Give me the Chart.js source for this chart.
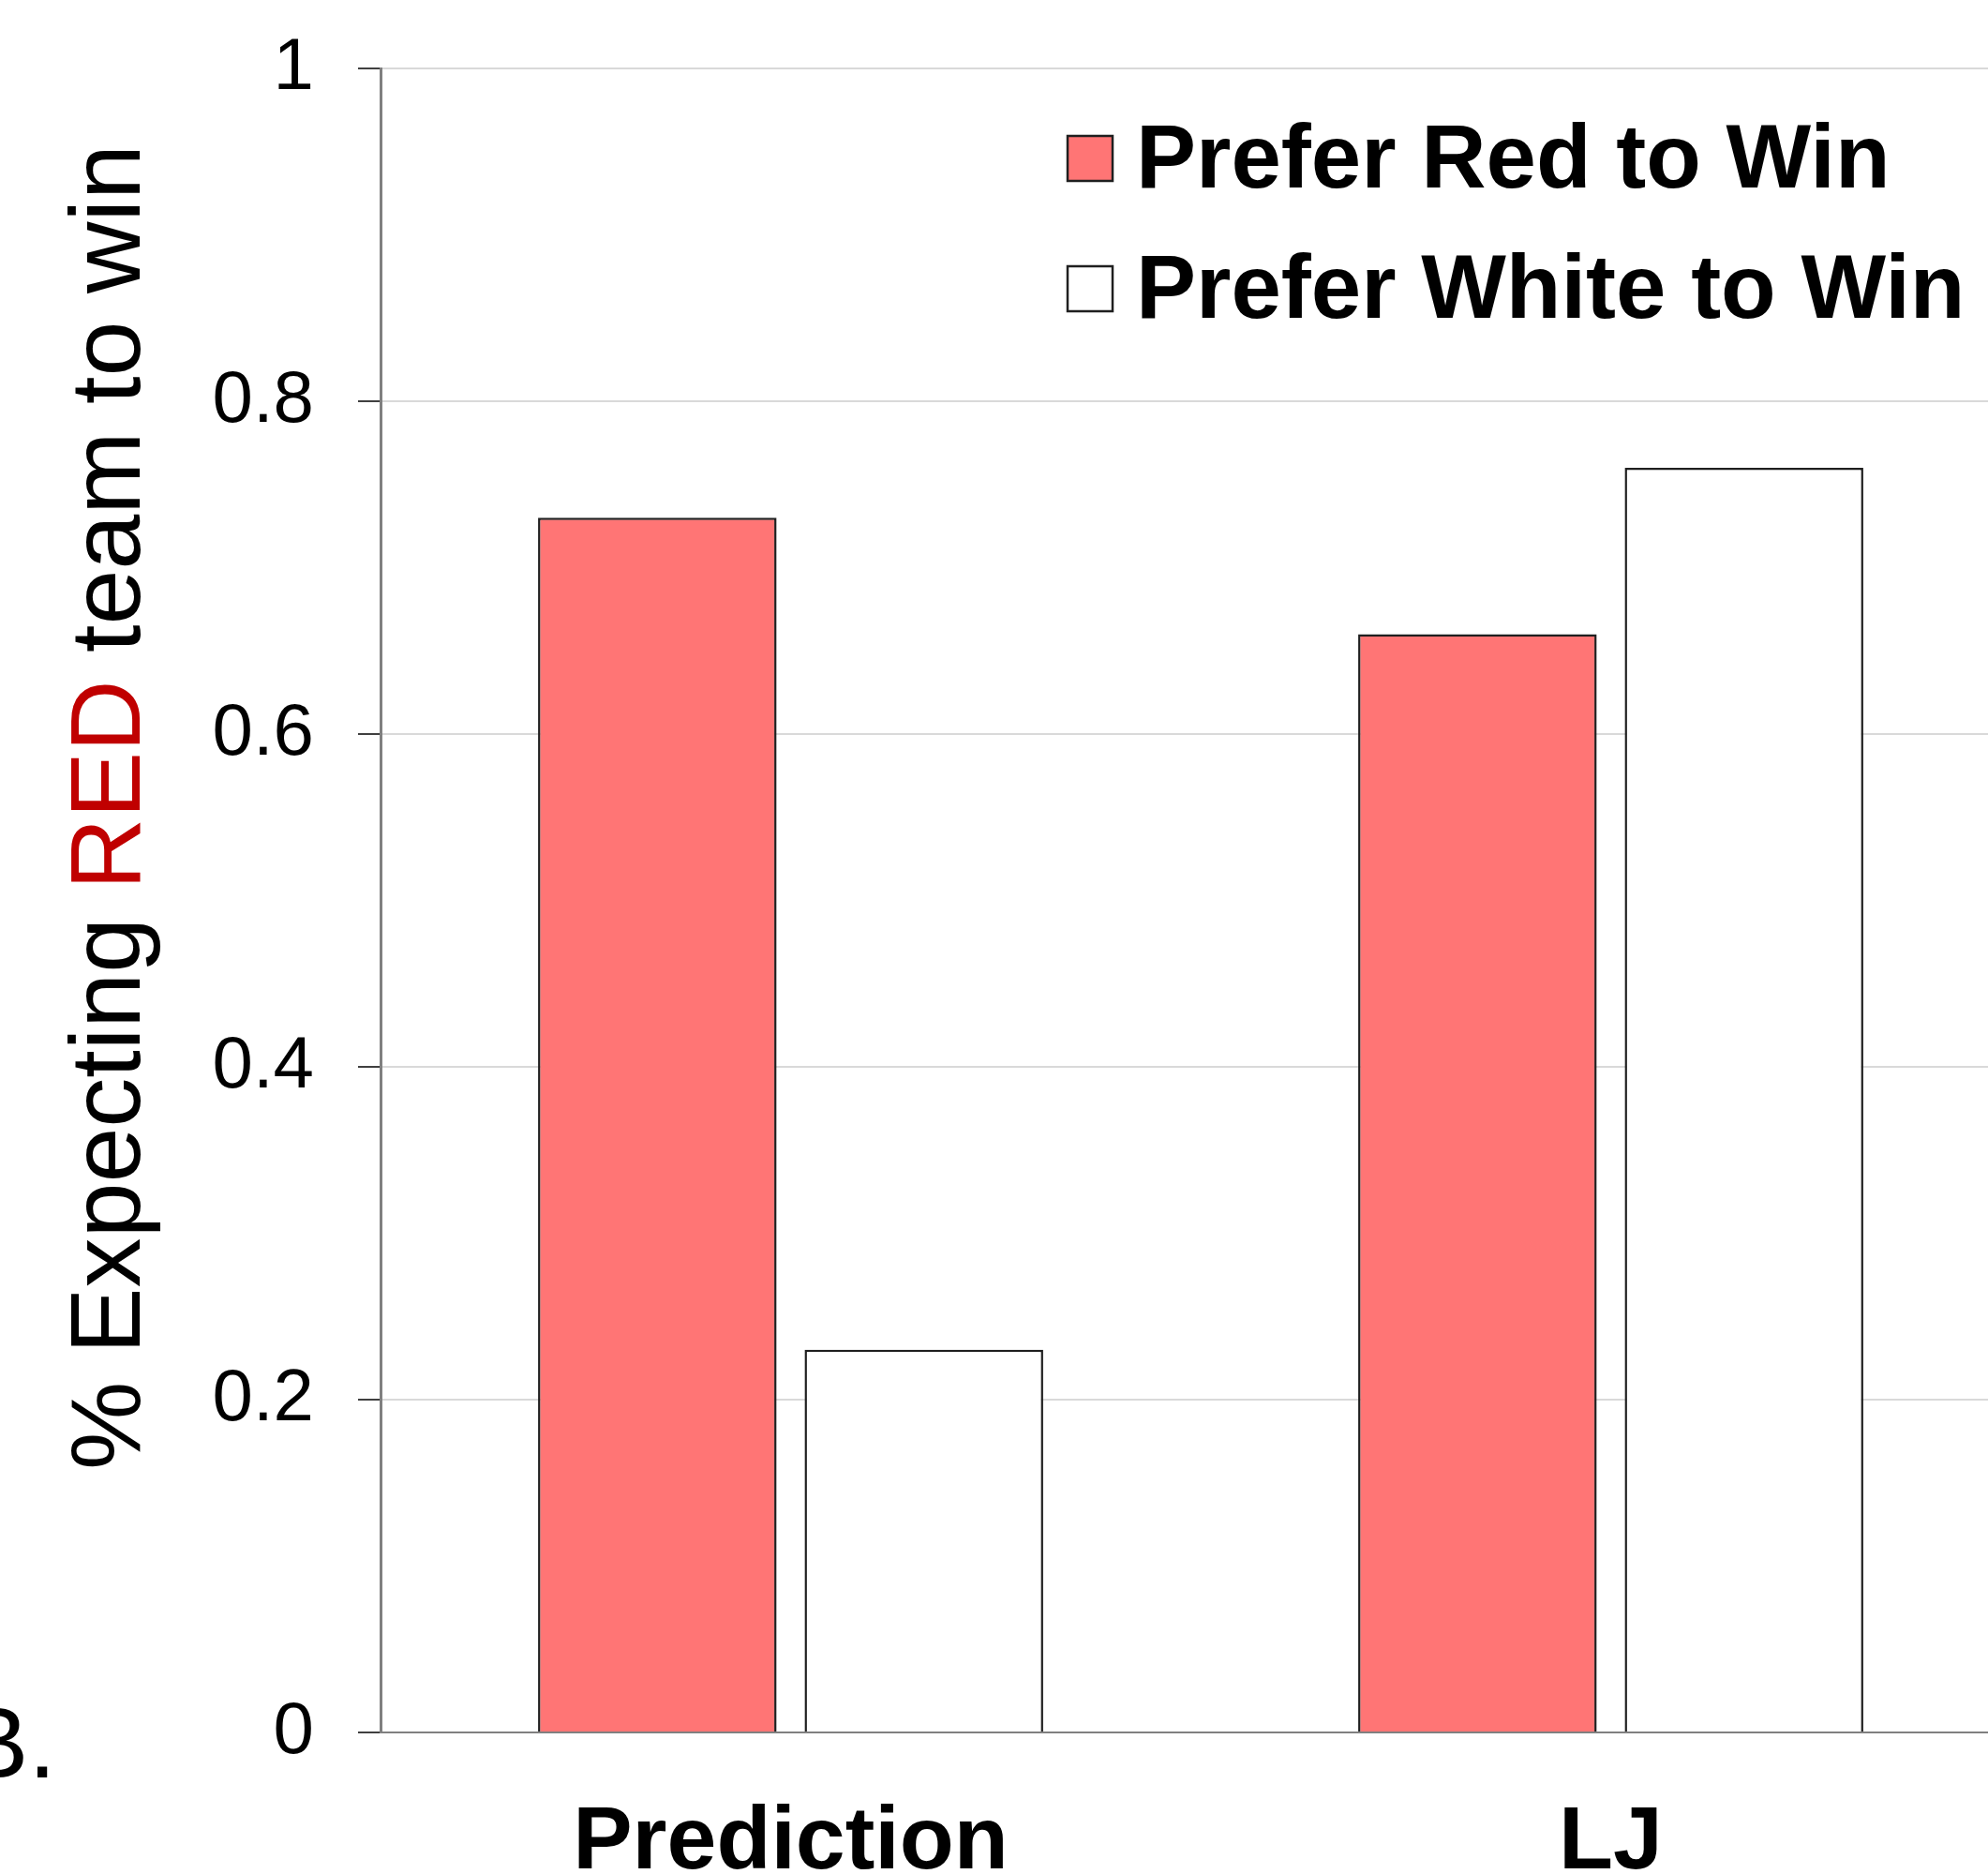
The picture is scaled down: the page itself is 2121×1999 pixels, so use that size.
<!DOCTYPE html>
<html>
<head>
<meta charset="utf-8">
<script src="https://cdn.jsdelivr.net/npm/chart.js@4/dist/chart.umd.min.js"></script>
<style>
  html, body { margin: 0; padding: 0; background: #ffffff; overflow: hidden; }
  #wrap { position: absolute; left: 0; top: 0; width: 2121px; height: 1999px; overflow: hidden; }
  canvas { position: absolute; left: 0; top: 0; }
</style>
</head>
<body>
<div id="wrap"><canvas id="chart" width="2156" height="1999"></canvas></div>
<script>
// Categories and series
const categories = ['Prediction', 'LJ'];
const seriesLabels = ['Prefer Red to Win', 'Prefer White to Win'];
const preferRed = [0.73, 0.66];
const preferWhite = [0.23, 0.76];
const yTicks = [0, 0.2, 0.4, 0.6, 0.8, 1];

const FONT = '"Liberation Sans", Arial, Helvetica, sans-serif';

// y-axis title with the word RED coloured
const titleParts = [
  { text: '% Expecting ', color: '#000000' },
  { text: 'RED', color: '#C00000' },
  { text: ' team to win', color: '#000000' }
];

const overlayPlugin = {
  id: 'overlay',
  afterDraw(chart) {
    const ctx = chart.ctx;

    // rotated axis title
    ctx.save();
    ctx.font = '106px ' + FONT;
    const total = titleParts.reduce((s, p) => s + ctx.measureText(p.text).width, 0);
    ctx.translate(149, 861);
    ctx.rotate(-Math.PI / 2);
    ctx.textBaseline = 'alphabetic';
    ctx.textAlign = 'left';
    let x = -total / 2;
    for (const p of titleParts) {
      ctx.fillStyle = p.color;
      ctx.fillText(p.text, x, 0);
      x += ctx.measureText(p.text).width;
    }
    ctx.restore();

    // panel letter
    ctx.save();
    ctx.font = '107px ' + FONT;
    ctx.fillStyle = '#000000';
    ctx.textAlign = 'right';
    ctx.textBaseline = 'alphabetic';
    ctx.fillText('B.', 60, 1896);
    ctx.restore();

    // legend inside the plot area
    ctx.save();
    ctx.font = 'bold 96px ' + FONT;
    ctx.textBaseline = 'alphabetic';
    ctx.textAlign = 'left';
    chart.data.datasets.forEach((ds, i) => {
      const top = 145 + i * 139;
      ctx.fillStyle = ds.backgroundColor;
      ctx.fillRect(1139, top, 48, 48);
      ctx.strokeStyle = '#1f1f1f';
      ctx.lineWidth = 2.5;
      ctx.strokeRect(1139, top, 48, 48);
      ctx.fillStyle = '#000000';
      ctx.fillText(ds.label, 1212, top + 55);
    });
    ctx.restore();
  }
};

new Chart(document.getElementById('chart'), {
  type: 'bar',
  data: {
    labels: categories,
    datasets: [
      {
        label: seriesLabels[0],
        data: preferRed,
        backgroundColor: '#FF7575',
        borderColor: '#1f1f1f',
        borderWidth: 2.5,
        categoryPercentage: 0.65,
        barPercentage: 0.895
      },
      {
        label: seriesLabels[1],
        data: preferWhite,
        backgroundColor: '#FFFFFF',
        borderColor: '#1f1f1f',
        borderWidth: 2.5,
        categoryPercentage: 0.65,
        barPercentage: 0.895
      }
    ]
  },
  options: {
    responsive: false,
    animation: false,
    devicePixelRatio: 1,
    layout: { padding: { top: 73, right: 0, bottom: 0, left: 0 } },
    plugins: {
      legend: { display: false },
      tooltip: { enabled: false }
    },
    scales: {
      x: {
        grid: { display: false },
        border: { display: true, color: '#808080', width: 2 },
        ticks: {
          color: '#000000',
          padding: 54,
          font: { family: FONT, size: 95, weight: 'bold' }
        },
        afterFit(scale) { scale.height = 151; }
      },
      y: {
        min: 0,
        max: 1,
        afterBuildTicks(scale) { scale.ticks = yTicks.map(v => ({ value: v })); },
        grid: {
          color: '#d9d9d9',
          lineWidth: 2,
          tickLength: 24,
          tickColor: '#404040'
        },
        border: { display: true, color: '#808080', width: 3 },
        ticks: {
          color: '#000000',
          padding: 47,
          font: { family: FONT, size: 78 },
          callback: v => String(v)
        },
        afterFit(scale) {
          scale.width = 406;
          scale.paddingTop = 0;
          scale.paddingBottom = 0;
        }
      }
    }
  },
  plugins: [overlayPlugin]
});
</script>
</body>
</html>
